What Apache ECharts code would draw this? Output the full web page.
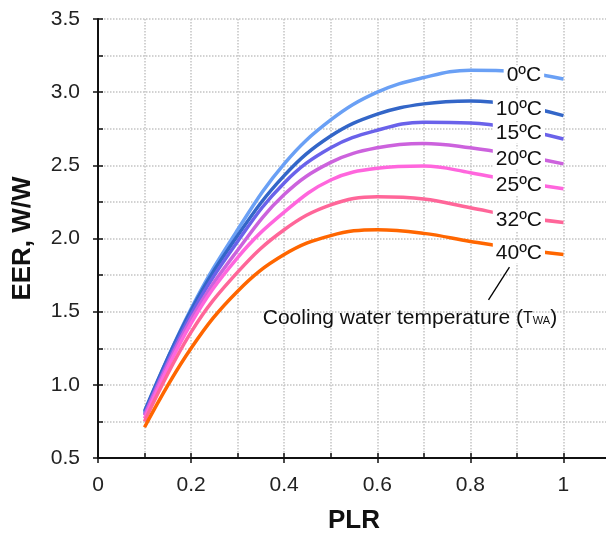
<!DOCTYPE html>
<html>
<head>
<meta charset="utf-8">
<script src="https://cdn.jsdelivr.net/npm/echarts@6/dist/echarts.min.js"></script>
<style>
  html, body { margin: 0; padding: 0; background: #fff; }
  #chart { width: 606px; height: 534px; }
</style>
</head>
<body>
<div id="chart"></div>
<script>
// PLR values where the curves were read
var plr = [0.1, 0.2, 0.3, 0.4, 0.5, 0.6, 0.7, 0.8, 0.9, 1.0];
// cooling water temperature labels
var twaNames = ['0ºC', '10ºC', '15ºC', '20ºC', '25ºC', '32ºC', '40ºC'];
// EER for each cooling water temperature
var eer0  = [0.81, 1.52, 2.06, 2.51, 2.81, 3.00, 3.10, 3.15, 3.14, 3.09];
var eer10 = [0.82, 1.51, 2.02, 2.43, 2.70, 2.85, 2.92, 2.94, 2.91, 2.84];
var eer15 = [0.80, 1.48, 1.98, 2.38, 2.62, 2.74, 2.795, 2.79, 2.75, 2.68];
var eer20 = [0.79, 1.45, 1.92, 2.30, 2.52, 2.62, 2.65, 2.62, 2.57, 2.51];
var eer25 = [0.77, 1.42, 1.87, 2.18, 2.40, 2.48, 2.495, 2.45, 2.39, 2.34];
var eer32 = [0.75, 1.36, 1.77, 2.06, 2.23, 2.285, 2.27, 2.21, 2.15, 2.11];
var eer40 = [0.71, 1.25, 1.64, 1.89, 2.02, 2.06, 2.035, 1.98, 1.93, 1.89];
var eerAll = [eer0, eer10, eer15, eer20, eer25, eer32, eer40];

var colors = ['#6aa0f5', '#3366c8', '#6a62ea', '#cc62dd', '#ff66dd', '#ff6699', '#ff6600'];
var labelIdx = 8; // label sits on the 0.9 point
var font = 'Liberation Sans, Arial, sans-serif';

var myChart = echarts.init(document.getElementById('chart'));

var series = eerAll.map(function(vals, k) {
	return {
		name: twaNames[k],
		type: 'line',
		smooth: 0.4,
		smoothConstraint: false,
		symbol: 'circle',
		symbolSize: 0,
		showSymbol: true,
		xAxisIndex: 0,
		yAxisIndex: 0,
		lineStyle: { color: colors[k], width: 3.5 },
		itemStyle: { color: colors[k] },
		data: plr.map(function(x, i) {
			if (i == labelIdx) {
				return {
					value: [x, vals[i]],
					label: {
						show: true,
						position: 'inside',
						offset: [k == 0 ? 7 : 2, 4],
						formatter: twaNames[k],
						fontFamily: font,
						fontSize: 21,
						color: '#111',
						backgroundColor: '#fff',
						padding: [0, 3]
					}
				};
			}
			return [x, vals[i]];
		})
	};
});

// leader line and note on the last series
series[6].markLine = {
	silent: true,
	symbol: 'none',
	label: { show: false },
	lineStyle: { color: '#000', width: 1.3, type: 'solid' },
	data: [[{ coord: [0.839, 1.58] }, { coord: [0.884, 1.805] }]]
};
series[6].markPoint = {
	silent: true,
	symbol: 'circle',
	symbolSize: 0,
	data: [{
		coord: [0.354, 1.455],
		label: {
			show: true,
			position: 'right',
			distance: 0,
			formatter: '{a|Cooling water temperature }{a|(}{t|T}{s|WA}{a|)}',
			rich: {
				a: { fontFamily: font, fontSize: 21, color: '#111', verticalAlign: 'bottom' },
				t: { fontFamily: font, fontSize: 16, color: '#111', verticalAlign: 'bottom', padding: [0, 0, 2, 0] },
				s: { fontFamily: font, fontSize: 11, color: '#111', verticalAlign: 'bottom', padding: [0, 0, 2, 0] }
			}
		}
	}]
};

var gridStyle = { show: true, lineStyle: { color: '#c4c4c4', type: 'dotted', width: 1.5 } };

var option = {
	animation: false,
	grid: { left: 98, top: 19, right: -4, bottom: 76, outerBoundsMode: 'none', containLabel: false },
	xAxis: [{
		type: 'value',
		min: 0, max: 1.1, interval: 0.1,
		name: 'PLR',
		nameLocation: 'middle',
		nameGap: 50,
		nameTextStyle: { fontFamily: font, fontSize: 26, fontWeight: 'bold', color: '#111' },
		axisLine: { show: true, onZero: false, lineStyle: { color: '#111', width: 2 } },
		axisTick: { show: true, inside: true, length: 5, lineStyle: { color: '#111', width: 1.5 } },
		axisLabel: {
			fontFamily: font, fontSize: 21, color: '#222', margin: 17,
			formatter: function(v) {
				var n = Math.round(v * 10);
				if (n % 2 != 0 || n > 10) return '';
				return n == 0 ? '0' : (n == 10 ? '1' : (n / 10).toFixed(1));
			}
		},
		splitLine: gridStyle
	}, {
		type: 'value',
		min: 0, max: 1.1, interval: 0.2,
		position: 'bottom',
		axisLine: { show: false },
		axisTick: { show: true, inside: false, length: 5, lineStyle: { color: '#111', width: 1.5 } },
		axisLabel: { show: false },
		splitLine: { show: false }
	}],
	yAxis: [{
		type: 'value',
		min: 0.5, max: 3.5, interval: 0.25,
		name: 'EER, W/W',
		nameLocation: 'middle',
		nameGap: 62,
		nameTextStyle: { fontFamily: font, fontSize: 26, fontWeight: 'bold', color: '#111' },
		axisLine: { show: true, onZero: false, lineStyle: { color: '#111', width: 2 } },
		axisTick: { show: true, inside: true, length: 5, lineStyle: { color: '#111', width: 1.5 } },
		axisLabel: {
			fontFamily: font, fontSize: 21, color: '#222', margin: 18,
			formatter: function(v) {
				var n = Math.round(v * 4);
				if (n % 2 != 0) return '';
				return v.toFixed(1);
			}
		},
		splitLine: gridStyle
	}, {
		type: 'value',
		min: 0.5, max: 3.5, interval: 0.5,
		position: 'left',
		axisLine: { show: false },
		axisTick: { show: true, inside: false, length: 5, lineStyle: { color: '#111', width: 1.5 } },
		axisLabel: { show: false },
		splitLine: { show: false }
	}],
	series: series
};

myChart.setOption(option);
</script>
</body>
</html>
